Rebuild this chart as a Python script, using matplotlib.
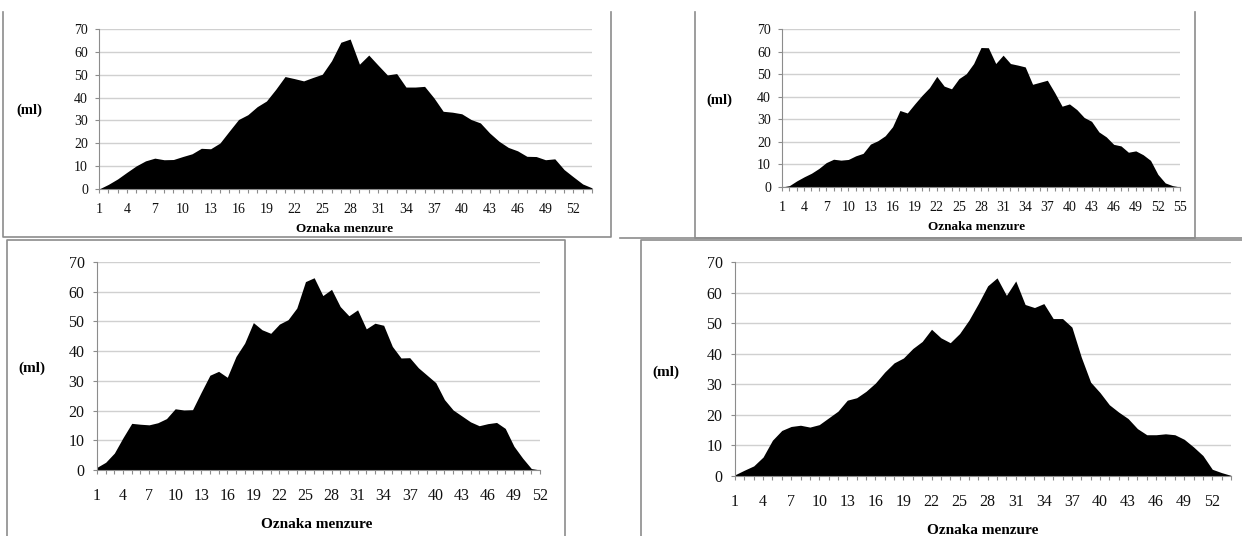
import matplotlib
matplotlib.use("Agg")
import matplotlib.pyplot as plt
import numpy as np
from matplotlib.lines import Line2D

plt.rcParams['font.family'] = ['Liberation Serif', 'DejaVu Serif']

W, H = 1242, 536

# volume per menzura (ml), four experiments
vals_tl = [0, 2, 4.4, 7.3, 10.1, 12.3, 13.5, 12.8, 12.9, 14.2,
           15.4, 17.8, 17.6, 20.1, 25.3, 30.4, 32.5, 36, 38.5, 43.6,
           49.2, 48.3, 47.3, 48.8, 50.2, 56.1, 64.2, 65.6, 54.6, 58.6,
           54.2, 49.9, 50.5, 44.6, 44.6, 44.9, 39.9, 34, 33.6, 32.9,
           30.4, 28.9, 24.5, 20.9, 18.2, 16.7, 14.3, 14.2, 12.8, 13.2,
           8.5, 5.3, 2.2, 0.5]
vals_tr = [0, 0.6, 2.7, 4.5, 6.1, 8.2, 10.8, 12.3, 11.9, 12.2,
           13.8, 14.9, 19, 20.5, 22.7, 26.7, 33.9, 32.8, 36.8, 40.6,
           44, 49, 44.7, 43.5, 48, 50.2, 54.7, 61.8, 61.7, 54.7,
           58.4, 54.7, 54, 53.2, 45.5, 46.4, 47.3, 41.8, 35.8, 36.8,
           34.3, 30.8, 29.1, 24.4, 22.2, 18.9, 18.2, 15.4, 16, 14.3,
           11.8, 5.6, 1.8, 0.6, 0]
vals_bl = [0.9, 2.6, 5.7, 10.9, 15.7, 15.4, 15.2, 15.9, 17.3, 20.6,
           20.2, 20.3, 26.2, 31.9, 33.2, 31.2, 38.2, 42.7, 49.6, 47.2,
           46, 49.1, 50.6, 54.5, 63.4, 64.7, 58.7, 60.8, 55, 51.9,
           53.9, 47.5, 49.4, 48.7, 41.6, 37.7, 37.8, 34.4, 31.9, 29.4,
           23.7, 20.2, 18.2, 16.2, 14.9, 15.6, 16, 14, 8, 4,
           0.5, 0]
vals_br = [0.4, 1.9, 3.3, 6.2, 11.7, 14.9, 16.2, 16.6, 16, 16.8,
           19, 21.2, 24.8, 25.6, 27.7, 30.4, 34, 37, 38.6, 41.7,
           44, 48, 45.2, 43.6, 46.6, 51, 56.4, 62.2, 64.8, 59.1,
           63.8, 56.1, 55.1, 56.4, 51.5, 51.5, 48.7, 38.9, 30.7, 27.3,
           23.3, 20.9, 18.8, 15.5, 13.5, 13.5, 13.8, 13.5, 12, 9.5,
           6.7, 2.2, 1.1, 0.2]
y_ticks = [0, 10, 20, 30, 40, 50, 60, 70]
x_label = 'Oznaka menzure'
y_label = '(ml)'

fig = plt.figure(figsize=(W / 100, H / 100), dpi=100)


def px_axes(x0, y0, x1, y1):
    # pixel box (top-left origin) -> figure axes
    return fig.add_axes([x0 / W, 1 - y1 / H, (x1 - x0) / W, (y1 - y0) / H])


def panel(box, vals, fs, xpad, ypad, ml_xy, xl_xy, mlfs, xlfs):
    ax = px_axes(*box)
    n = len(vals)
    x = np.arange(1, n + 1)
    ax.fill_between(x, vals, 0, color='black', lw=0)
    ax.set_xlim(1, n)
    ax.set_ylim(0, 70)
    ax.set_yticks(y_ticks)
    ax.set_xticks(x)
    ax.set_xticklabels([str(i) if (i - 1) % 3 == 0 else '' for i in x])
    ax.grid(axis='y', color='#d0d0d0', lw=1)
    ax.set_axisbelow(True)
    for s in ['top', 'right']:
        ax.spines[s].set_visible(False)
    for s in ['left', 'bottom']:
        ax.spines[s].set_color('#8c8c8c')
        ax.spines[s].set_linewidth(0.8)
    ax.tick_params(axis='x', length=3, width=0.8, color='#8c8c8c',
                   labelsize=fs, pad=xpad, labelcolor='#111111')
    ax.tick_params(axis='y', length=3, width=0.8, color='#8c8c8c',
                   labelsize=fs, pad=ypad, labelcolor='#111111')
    fig.text(ml_xy[0] / W, 1 - ml_xy[1] / H, y_label, fontsize=mlfs,
             fontweight='bold', ha='center', va='center')
    fig.text(xl_xy[0] / W, 1 - xl_xy[1] / H, x_label, fontsize=xlfs,
             fontweight='bold', ha='center', va='center')
    return ax


panel((99, 29, 592, 189), vals_tl, 10, 7, 5, (29, 110), (345, 229), 10.5, 9.5)
panel((782, 29, 1180, 187), vals_tr, 10, 7, 5, (719, 100), (977, 227), 10.5, 9.5)
panel((97, 262, 540, 470), vals_bl, 11.5, 10, 6, (32, 368), (317, 525), 11, 11)
panel((735, 262, 1231, 476), vals_br, 11.5, 10, 6, (666, 372), (983, 530), 11, 11)

# screenshot frames around each chart
frame_col = '#8c8c8c'
frames = [
    [(3, 12), (3, 237), (611, 237), (611, 12)],
    [(695, 12), (695, 238), (1195, 238), (1195, 12)],
    [(620, 238), (1242, 238)],
    [(7, 536), (7, 240), (565, 240), (565, 536)],
    [(641, 536), (641, 240), (1242, 240)],
]
for f in frames:
    xs = [p[0] / W for p in f]
    ys = [1 - p[1] / H for p in f]
    fig.add_artist(Line2D(xs, ys, color=frame_col, lw=1.2))

fig.savefig('out.png', dpi=100)
